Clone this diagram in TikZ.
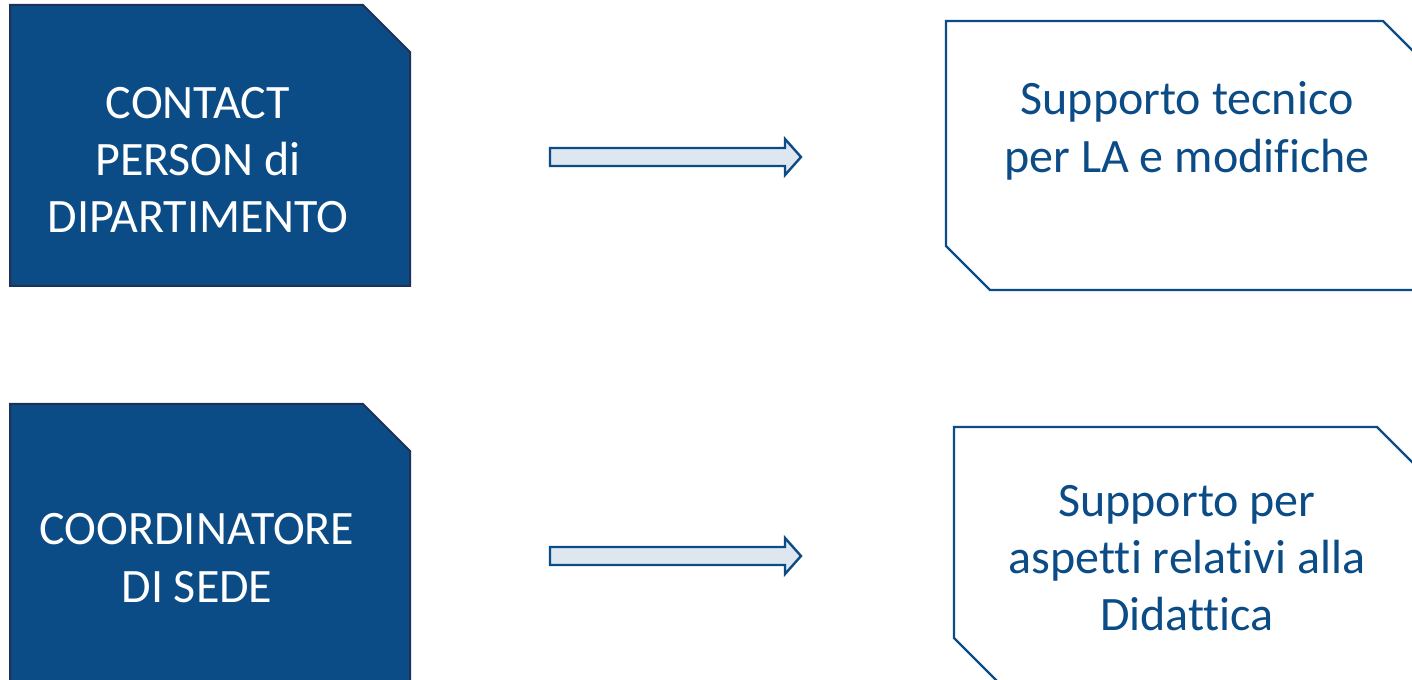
\documentclass[tikz,border=0pt]{standalone}
\usepackage{fontspec}
\setmainfont[Ligatures={NoCommon}]{Carlito}
\usetikzlibrary{positioning}

\definecolor{boxblue}{RGB}{11,76,134}
\definecolor{boxline}{RGB}{30,50,88}
\definecolor{textblue}{RGB}{11,76,134}
\definecolor{arrowfill}{RGB}{222,230,239}

\tikzset{
  rolebox/.style={fill=boxblue, draw=boxline, line width=1.5pt, line join=miter},
  supbox/.style={fill=white, draw=textblue, line width=1.8pt, line join=miter},
  blockarrow/.style={fill=arrowfill, draw=textblue, line width=1.8pt, line join=miter},
  roletext/.style={text=white, align=center, inner sep=0pt, font=\fontsize{36}{43}\selectfont},
  suptext/.style={text=textblue, align=center, inner sep=0pt, font=\fontsize{36}{43}\selectfont}
}

\begin{document}
\begin{tikzpicture}[x=0.75pt, y=-0.75pt]
\useasboundingbox (0,0) rectangle (1412,680);
\clip (0,0) rectangle (1412,680);

% Left: roles
\draw[rolebox] (10,5) -- (363,5) -- (410,52) -- (410,286) -- (10,286) -- cycle;
\node[roletext] (contact) at (198,160) {CONTACT\\PERSON di\\DIPARTIMENTO};

\draw[rolebox] (10,404) -- (363,404) -- (410,451) -- (410,720) -- (10,720) -- cycle;
\node[roletext] (coord) at (197,558) {COORDINATORE\\DI SEDE};

% Middle: arrows
\draw[blockarrow] (550,148) -- (785,148) -- (785,139) -- (801,157) -- (785,175) -- (785,166) -- (550,166) -- cycle;
\draw[blockarrow] (550,547) -- (785,547) -- (785,538) -- (801,556) -- (785,574) -- (785,565) -- (550,565) -- cycle;

% Right: support
\draw[supbox] (946,21) -- (1383,21) -- (1440,78) -- (1440,290) -- (990,290) -- (946,246) -- cycle;
\node[suptext] (tecnico) at (1187,131) {Supporto tecnico\\per LA e modifiche};

\draw[supbox] (954,427) -- (1377,427) -- (1440,490) -- (1440,683) -- (999,683) -- (954,638) -- cycle;
\node[suptext] (didattica) at (1187,558) {Supporto per\\aspetti relativi alla\\Didattica};
\end{tikzpicture}
\end{document}
